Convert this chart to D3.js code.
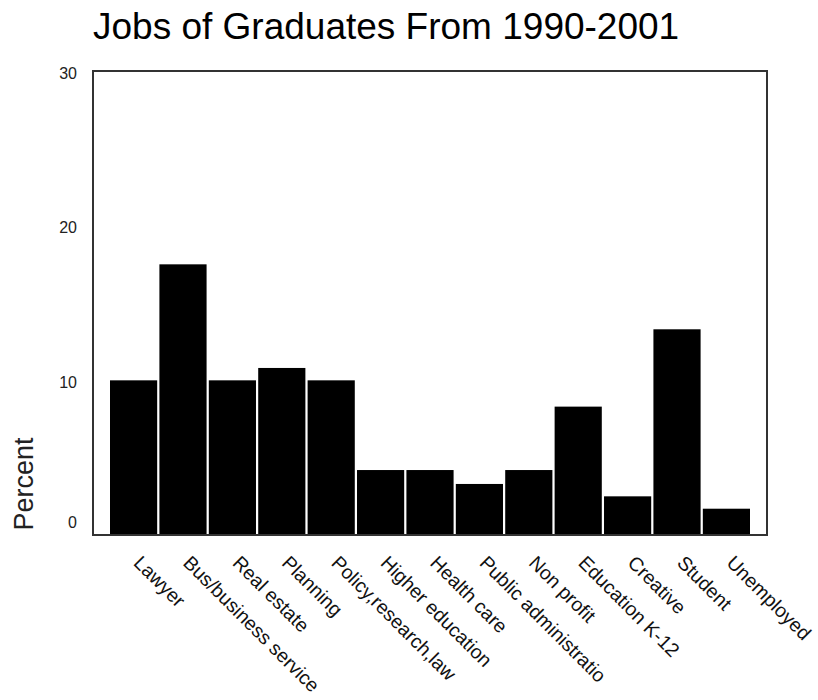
<!DOCTYPE html>
<html>
<head>
<meta charset="utf-8">
<script src="https://cdn.jsdelivr.net/npm/d3@7"></script>
<style>
  body { margin: 0; background: #fff; }
  svg { display: block; font-family: "Liberation Sans", Arial, sans-serif; }
</style>
</head>
<body>
<svg class="chart"></svg>
<script>
var width = 818,
    height = 700,
    margin = {
        top: 71,
        right: 51,
        bottom: 165,
        left: 93
    }

// jobs, percent of graduates
var jobs = ["Lawyer", "Bus/business service", "Real estate", "Planning", "Policy,research,law",
    "Higher education", "Health care", "Public administratio", "Non profit", "Education K-12",
    "Creative", "Student", "Unemployed"]
var percent = [10.0, 17.5, 10.0, 10.8, 10.0, 4.2, 4.2, 3.3, 4.2, 8.3, 2.5, 13.3, 1.7]
var yTicks = [0, 10, 20, 30]

var chart = d3.select(".chart")
    .attr("width", width)
    .attr("height", height)

var plotBottom = height - margin.bottom,
    plotRight = width - margin.right

var xScale = d3.scaleBand()
    .domain(jobs)
    .range([margin.left + 17, plotRight - 17])
    .paddingInner(0.045)
    .paddingOuter(0)

var yScale = d3.scaleLinear()
    .domain([0, 30])
    .range([plotBottom, margin.top])

// title
chart.append("text")
    .attr("x", margin.left)
    .attr("y", 39)
    .attr("font-size", 37)
    .attr("fill", "#000")
    .text("Jobs of Graduates From 1990-2001")

// bars
chart.append("g")
    .attr("class", "bars")
    .selectAll("rect")
    .data(percent)
    .join("rect")
    .attr("x", (d, i) => xScale(jobs[i]))
    .attr("y", d => yScale(d))
    .attr("width", xScale.bandwidth())
    .attr("height", d => yScale(0) - yScale(d))
    .attr("fill", "#000")

// frame
chart.append("rect")
    .attr("x", margin.left)
    .attr("y", margin.top)
    .attr("width", plotRight - margin.left)
    .attr("height", plotBottom - margin.top)
    .attr("fill", "none")
    .attr("stroke", "#333")
    .attr("stroke-width", 2)

// y axis labels
chart.append("g")
    .attr("class", "y axis")
    .attr("transform", `translate(${margin.left},0)`)
    .call(d3.axisLeft(yScale).tickValues(yTicks).tickSize(0).tickPadding(16))
    .call(g => g.select(".domain").remove())
    .call(g => g.selectAll("text")
        .attr("font-size", 16)
        .attr("font-family", null)
        .attr("fill", "#222")
        .attr("dy", d => d === 0 ? "-0.45em" : "0.45em"))

// x axis labels, rotated
chart.append("g")
    .attr("class", "x axis")
    .attr("transform", `translate(0,${plotBottom})`)
    .call(d3.axisBottom(xScale).tickSize(0))
    .call(g => g.select(".domain").remove())
    .call(g => g.selectAll("text")
        .attr("font-size", 19.5)
        .attr("font-family", null)
        .attr("fill", "#111")
        .attr("x", 0)
        .attr("y", 0)
        .attr("dy", 0)
        .attr("text-anchor", "start")
        .attr("transform", "translate(-1,29) rotate(45)"))

// y title
chart.append("text")
    .attr("transform", "translate(33,484) rotate(-90)")
    .attr("text-anchor", "middle")
    .attr("font-size", 27)
    .attr("fill", "#222")
    .text("Percent")
</script>
</body>
</html>
